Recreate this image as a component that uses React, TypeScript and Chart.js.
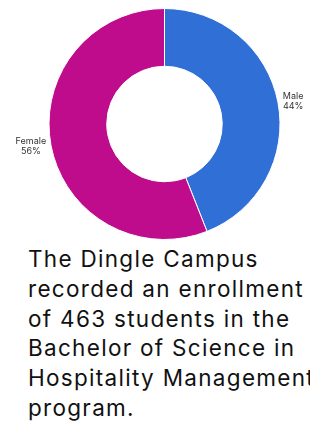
import React, { useEffect, useRef } from "react";
import { Chart, registerables } from "chart.js";

Chart.register(...registerables);

const categories = ["Male", "Female"];
const shares = [44, 56];
const colors = ["#3070d6", "#be0c8c"];
const paragraphLines = [
  "The Dingle Campus",
  "recorded an enrollment",
  "of 463 students in the",
  "Bachelor of Science in",
  "Hospitality Management",
  "program.",
];

const outsideLabels = {
  id: "outsideLabels",
  afterDatasetsDraw(chart: any) {
    const ctx = chart.ctx;
    const meta = chart.getDatasetMeta(0);
    ctx.save();
    ctx.font = "9px Inter, 'Noto Sans', sans-serif";
    ctx.fillStyle = "#333";
    ctx.textBaseline = "middle";
    meta.data.forEach((arc: any, i: number) => {
      const mid = (arc.startAngle + arc.endAngle) / 2;
      const r = arc.outerRadius + 5;
      const x = arc.x + Math.cos(mid) * r;
      const y = arc.y + Math.sin(mid) * r;
      const lines = [String(chart.data.labels[i]), shares[i] + "%"];
      const widths = lines.map((l) => ctx.measureText(l).width);
      const w = Math.max(...widths);
      const right = Math.cos(mid) >= 0;
      const cx = right ? x + w / 2 : x - w / 2;
      ctx.textAlign = "center";
      ctx.fillText(lines[0], cx, y - 5);
      ctx.fillText(lines[1], cx, y + 5);
    });
    ctx.restore();
  },
};

export default function App() {
  const ref = useRef<HTMLCanvasElement>(null);
  useEffect(() => {
    if (!ref.current) return;
    const chart = new Chart(ref.current, {
      type: "doughnut",
      data: {
        labels: categories,
        datasets: [
          {
            data: shares,
            backgroundColor: colors,
            borderColor: "#ffffff",
            borderWidth: 1,
          },
        ],
      },
      options: {
        animation: false,
        responsive: true,
        maintainAspectRatio: false,
        cutout: "50%",
        layout: { padding: { left: 11, right: 0, top: 0, bottom: 0 } },
        plugins: {
          legend: { display: false },
          tooltip: { enabled: false },
        },
      },
      plugins: [outsideLabels],
    });
    return () => chart.destroy();
  }, []);

  return (
    <div style={{ width: 310, overflow: "hidden" }}>
      <div style={{ position: "relative", width: 302, height: 232 }}>
        <canvas ref={ref} />
      </div>
      <div
        style={{
          marginTop: 4,
          marginLeft: 20,
          width: 400,
          fontFamily: "Inter, 'Noto Sans', sans-serif",
          fontSize: 22.5,
          letterSpacing: 1.3,
          lineHeight: "29.8px",
          color: "#111",
          whiteSpace: "nowrap",
        }}
      >
        {paragraphLines.map((l, i) => (
          <div key={i}>{l}</div>
        ))}
      </div>
    </div>
  );
}
